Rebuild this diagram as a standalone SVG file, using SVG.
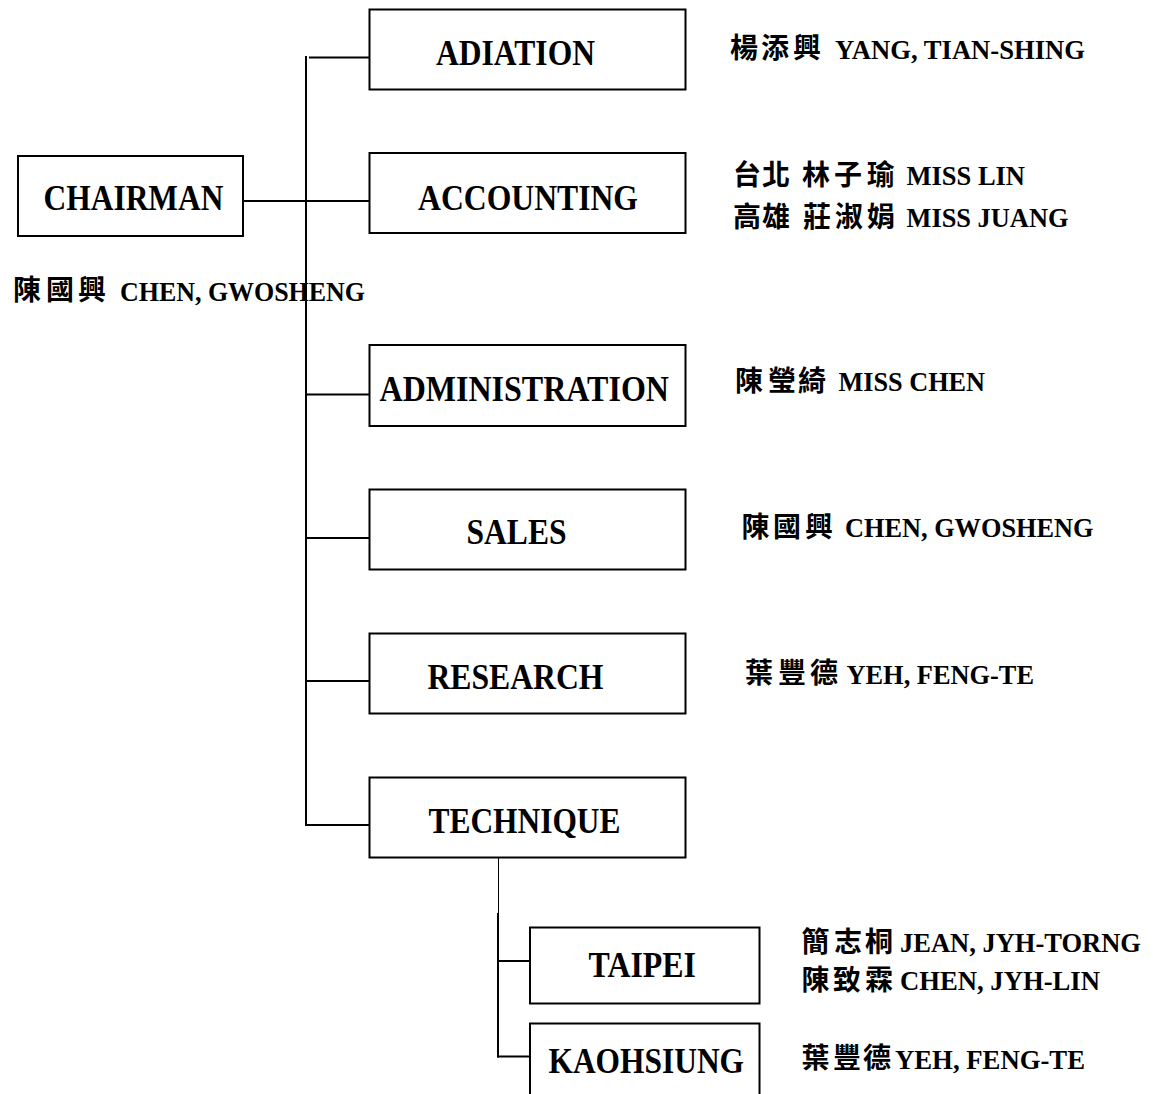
<svg xmlns="http://www.w3.org/2000/svg" width="1153" height="1094" viewBox="0 0 1153 1094">
<style>
.box{fill:#fff;stroke:#000;stroke-width:2}
.lbl{font-family:"Liberation Serif","Times New Roman",serif;font-weight:bold;font-size:35px;fill:#000}
.nm{font-family:"Liberation Serif","Times New Roman",serif;font-weight:bold;font-size:28px;fill:#000}
.cjk{font-family:"Noto Sans CJK TC","Noto Sans CJK SC",sans-serif;font-weight:bold;font-size:28px;fill:#000}
.ln{stroke:#000;stroke-width:2;fill:none}
.thin{stroke:#000;stroke-width:1;fill:none}
</style>
<rect width="1153" height="1094" fill="#fff"/>
<g id="connectors">
<line class="ln" x1="306" y1="56" x2="306" y2="826"/>
<line class="ln" x1="309" y1="57.5" x2="370" y2="57.5"/>
<line class="ln" x1="243" y1="201" x2="370" y2="201"/>
<line class="ln" x1="306" y1="394.5" x2="370" y2="394.5"/>
<line class="ln" x1="306" y1="538" x2="370" y2="538"/>
<line class="ln" x1="306" y1="681" x2="370" y2="681"/>
<line class="ln" x1="305" y1="825" x2="370" y2="825"/>
<line class="thin" x1="498.5" y1="858" x2="498.5" y2="913"/>
<line class="ln" x1="498" y1="913" x2="498" y2="1057.5"/>
<line class="ln" x1="497" y1="961" x2="530" y2="961"/>
<line class="ln" x1="497" y1="1056.5" x2="530" y2="1056.5"/>
</g>
<g id="chairman">
<rect class="box" x="18" y="156" width="225" height="80"/>
<text class="lbl" x="43.5" y="210" textLength="180" lengthAdjust="spacingAndGlyphs">CHAIRMAN</text>
<text class="cjk" x="13 46 78" y="300">陳國興</text>
<text class="nm" x="120" y="300.5" textLength="245" lengthAdjust="spacingAndGlyphs">CHEN, GWOSHENG</text>
</g>
<g id="adiation">
<rect class="box" x="369.5" y="9.5" width="316" height="80"/>
<text class="lbl" x="436" y="65" textLength="159" lengthAdjust="spacingAndGlyphs">ADIATION</text>
<text class="cjk" x="730 761 793" y="58">楊添興</text>
<text class="nm" x="835" y="58.5" textLength="250" lengthAdjust="spacingAndGlyphs">YANG, TIAN-SHING</text>
</g>
<g id="accounting">
<rect class="box" x="369.5" y="153" width="316" height="80"/>
<text class="lbl" x="418" y="210" textLength="220" lengthAdjust="spacingAndGlyphs">ACCOUNTING</text>
<text class="cjk" x="733 762 802 834 867" y="185">台北林子瑜</text>
<text class="nm" x="906.5" y="185" textLength="118.5" lengthAdjust="spacingAndGlyphs">MISS LIN</text>
<text class="cjk" x="733 762 803 835 867" y="226.5">高雄莊淑娟</text>
<text class="nm" x="906.5" y="226.5" textLength="162" lengthAdjust="spacingAndGlyphs">MISS JUANG</text>
</g>
<g id="administration">
<rect class="box" x="369.5" y="345" width="316" height="81"/>
<text class="lbl" x="379.5" y="401" textLength="289.5" lengthAdjust="spacingAndGlyphs">ADMINISTRATION</text>
<text class="cjk" x="735 768 798" y="391">陳瑩綺</text>
<text class="nm" x="838.5" y="391" textLength="146.5" lengthAdjust="spacingAndGlyphs">MISS CHEN</text>
</g>
<g id="sales">
<rect class="box" x="369.5" y="489.5" width="316" height="80"/>
<text class="lbl" x="466.5" y="543.5" textLength="100" lengthAdjust="spacingAndGlyphs">SALES</text>
<text class="cjk" x="741.5 773 805" y="536.5">陳國興</text>
<text class="nm" x="845" y="536.5" textLength="248.5" lengthAdjust="spacingAndGlyphs">CHEN, GWOSHENG</text>
</g>
<g id="research">
<rect class="box" x="369.5" y="633.5" width="316" height="80"/>
<text class="lbl" x="427.5" y="689" textLength="176" lengthAdjust="spacingAndGlyphs">RESEARCH</text>
<text class="cjk" x="745 778 810" y="683">葉豐德</text>
<text class="nm" x="846.5" y="683.5" textLength="187.5" lengthAdjust="spacingAndGlyphs">YEH, FENG-TE</text>
</g>
<g id="technique">
<rect class="box" x="369.5" y="777.5" width="316" height="80"/>
<text class="lbl" x="428.5" y="832.5" textLength="192" lengthAdjust="spacingAndGlyphs">TECHNIQUE</text>
</g>
<g id="taipei">
<rect class="box" x="530" y="927.5" width="229.5" height="76"/>
<text class="lbl" x="588.5" y="976.5" textLength="107.5" lengthAdjust="spacingAndGlyphs">TAIPEI</text>
<text class="cjk" x="801.5 834 865" y="951.5">簡志桐</text>
<text class="nm" x="900" y="951.5" textLength="241" lengthAdjust="spacingAndGlyphs">JEAN, JYH-TORNG</text>
<text class="cjk" x="801.5 833 865" y="990">陳致霖</text>
<text class="nm" x="900" y="990" textLength="200" lengthAdjust="spacingAndGlyphs">CHEN, JYH-LIN</text>
</g>
<g id="kaohsiung">
<rect class="box" x="530" y="1023.5" width="229.5" height="90"/>
<text class="lbl" x="548.5" y="1072.5" textLength="195.5" lengthAdjust="spacingAndGlyphs">KAOHSIUNG</text>
<text class="cjk" x="801.5 833 863" y="1068">葉豐德</text>
<text class="nm" x="895" y="1068.5" textLength="190" lengthAdjust="spacingAndGlyphs">YEH, FENG-TE</text>
</g>
</svg>
